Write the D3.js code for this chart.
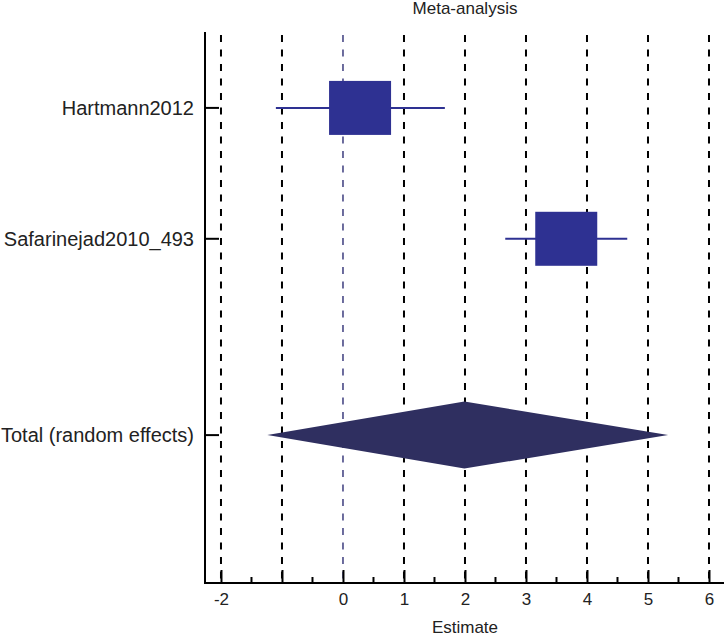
<!DOCTYPE html>
<html>
<head>
<meta charset="utf-8">
<script src="https://cdn.jsdelivr.net/npm/d3@7/dist/d3.min.js"></script>
<style>
body{margin:0;background:#fff;}
svg{display:block;font-family:"Liberation Sans",Arial,Helvetica,sans-serif;}
</style>
</head>
<body>
<svg id="chart" width="727" height="638"></svg>
<script>
// ---- data ----
const studies = ["Hartmann2012", "Safarinejad2010_493"];
const estimates = [0.28, 3.66];
const ciLow = [-1.10, 2.66];
const ciHigh = [1.67, 4.66];
const weights = [50, 50];
const totalLabel = "Total (random effects)";
const totalEstimate = 1.99;
const totalLow = -1.24;
const totalHigh = 5.33;
const xTicks = [-2, -1, 0, 1, 2, 3, 4, 5, 6];
const xMinorTicks = [-1.5, -0.5, 0.5, 1.5, 2.5, 3.5, 4.5, 5.5];
const titleText = "Meta-analysis";
const xLabel = "Estimate";

// ---- layout ----
const svg = d3.select("#chart");
const mLeft = 205, mRight = 724, mTop = 32, mBottom = 583;

const x = d3.scaleLinear().domain([-2.262, 6.246]).range([mLeft, mRight]);
const rows = studies.map((s, i) => i + 1).concat([studies.length + 1.5]);
const y = d3.scaleLinear().domain([0.42, 4.63]).range([mTop, mBottom]);
const allLabels = studies.concat([totalLabel]);

const boxW = d3.scaleSqrt().domain([0, 50]).range([0, 62]);
const boxH = d3.scaleSqrt().domain([0, 50]).range([0, 54]);

// grid dashed verticals
svg.append("g").selectAll("line").data(xTicks).join("line")
  .attr("x1", d => x(d)).attr("x2", d => x(d))
  .attr("y1", mTop + 3).attr("y2", mBottom)
  .attr("stroke", d => d === 0 ? "#3d3d7e" : "#000")
  .attr("stroke-width", d => d === 0 ? 1.5 : 2)
  .attr("stroke-dasharray", "7,7.5");

// whiskers
svg.append("g").selectAll("line").data(studies).join("line")
  .attr("x1", (d, i) => x(ciLow[i])).attr("x2", (d, i) => x(ciHigh[i]))
  .attr("y1", (d, i) => y(rows[i])).attr("y2", (d, i) => y(rows[i]))
  .attr("stroke", "#2e3192").attr("stroke-width", 2);

// boxes
svg.append("g").selectAll("rect").data(studies).join("rect")
  .attr("x", (d, i) => x(estimates[i]) - boxW(weights[i]) / 2)
  .attr("y", (d, i) => y(rows[i]) - boxH(weights[i]) / 2)
  .attr("width", (d, i) => boxW(weights[i]))
  .attr("height", (d, i) => boxH(weights[i]))
  .attr("fill", "#2e3192");

// diamond
const ty = y(rows[rows.length - 1]);
svg.append("path")
  .attr("d", `M${x(totalLow)},${ty}L${x(totalEstimate)},${ty - 33.5}L${x(totalHigh)},${ty}L${x(totalEstimate)},${ty + 33.5}Z`)
  .attr("fill", "#2f2f60");

// x axis
const xAxis = svg.append("g").attr("transform", `translate(0,${mBottom})`);
xAxis.call(d3.axisBottom(x).tickValues(xTicks).tickSize(-13).tickSizeOuter(0)
  .tickFormat(d => d === -1 ? "" : d));
xAxis.select(".domain").attr("stroke-width", 2).attr("d", `M${mLeft - 1},0H${mRight}`);
xAxis.selectAll(".tick line").attr("stroke-width", 2);
xAxis.selectAll(".tick text").attr("font-size", 17).attr("fill", "#222").attr("y", 10).attr("dy", "0.71em")
  .attr("font-family", "Liberation Sans, Arial, sans-serif");
xAxis.append("g").selectAll("line").data(xMinorTicks).join("line")
  .attr("x1", d => x(d)).attr("x2", d => x(d)).attr("y1", 0).attr("y2", -6)
  .attr("stroke", "#000").attr("stroke-width", 2);

// y axis
const yAxis = svg.append("g");
yAxis.append("line").attr("x1", mLeft).attr("x2", mLeft).attr("y1", mTop).attr("y2", mBottom + 1)
  .attr("stroke", "#000").attr("stroke-width", 2);
yAxis.selectAll("line.tk").data(rows).join("line").attr("class", "tk")
  .attr("x1", mLeft).attr("x2", mLeft + 14).attr("y1", d => y(d)).attr("y2", d => y(d))
  .attr("stroke", "#000").attr("stroke-width", 2);
yAxis.selectAll("text").data(allLabels).join("text")
  .attr("x", mLeft - 11).attr("y", (d, i) => y(rows[i])).attr("dy", "0.35em")
  .attr("text-anchor", "end").attr("font-size", 20).attr("fill", "#222")
  .text(d => d);

// title & x label
svg.append("text").attr("x", x(2)).attr("y", 14).attr("text-anchor", "middle")
  .attr("font-size", 17).attr("fill", "#222").text(titleText);
svg.append("text").attr("x", x(2)).attr("y", 633).attr("text-anchor", "middle")
  .attr("font-size", 17).attr("fill", "#222").text(xLabel);
</script>
</body>
</html>
